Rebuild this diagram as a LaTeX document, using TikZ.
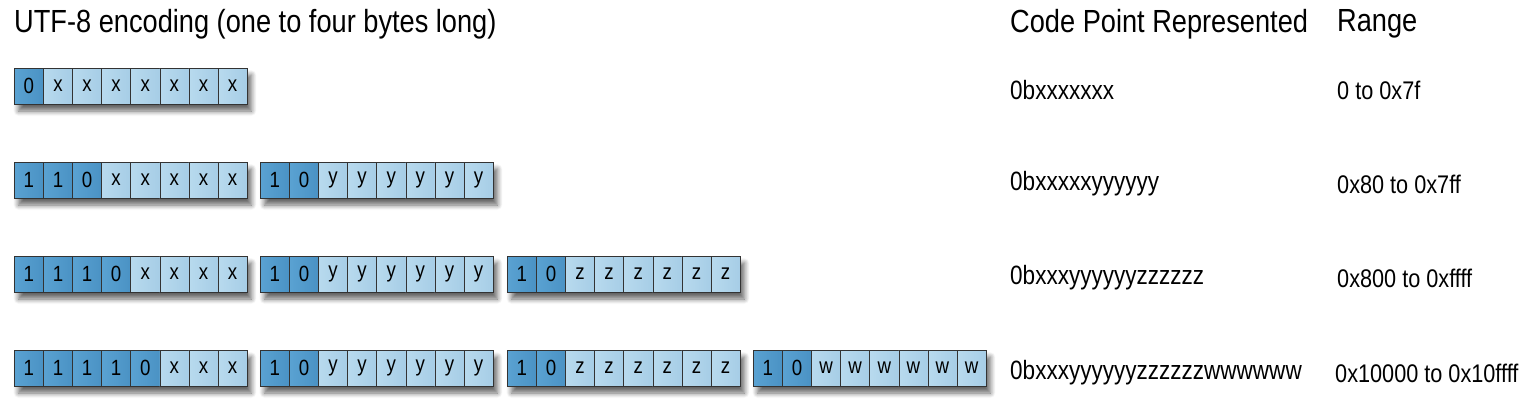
\documentclass[tikz,border=0pt]{standalone}
\usepackage{fontspec}
\setmainfont[FakeStretch=0.85]{Liberation Sans}
\usetikzlibrary{shadows.blur,calc}
\definecolor{darkc}{HTML}{5AA2D2}
\definecolor{darkc2}{HTML}{4A92C4}
\definecolor{lightc}{HTML}{B8DAEE}
\definecolor{lightc2}{HTML}{A6CDE6}
\tikzset{
  bytebox/.style={draw=black!80, line width=0.9pt, minimum width=233pt, minimum height=36pt, inner sep=0pt,
    blur shadow={shadow xshift=4pt, shadow yshift=-7pt, shadow blur steps=8, shadow opacity=60, shadow blur radius=5pt}},
  dcell/.style={draw=black!80, line width=0.6pt, left color=darkc, right color=darkc2, minimum width=29.1pt, minimum height=36pt, inner sep=0pt, font=\fontsize{22}{22}\selectfont},
  lcell/.style={draw=black!80, line width=0.6pt, left color=lightc, right color=lightc2, minimum width=29.1pt, minimum height=36pt, inner sep=0pt, font=\fontsize{22}{22}\selectfont},
  hdr/.style={anchor=west, font=\fontsize{32}{32}\selectfont, inner sep=0pt},
  lbl/.style={anchor=west, font=\fontsize{26.5}{26.5}\selectfont, inner sep=0pt},
  rlbl/.style={anchor=west, font=\fontsize{25.5}{25.5}\selectfont, inner sep=0pt}
}
\newcommand{\mybyte}[4]{%
  \node[bytebox, anchor=west] (#1) at (#2,#3) {};
  \foreach \b [count=\i from 0] in {#4} {
    \edef\tmp{\b}
    \ifnum\pdfstrcmp{\tmp}{1}=0 \def\sty{dcell}\else\ifnum\pdfstrcmp{\tmp}{0}=0 \def\sty{dcell}\else\def\sty{lcell}\fi\fi
    \node[\sty, anchor=west] (#1c\i) at ($(#1.west)+(\i*29.1,0)$) {\b};
  }%
}
\begin{document}
\begin{tikzpicture}[x=1pt,y=-1pt]
\useasboundingbox (0,0) rectangle (1527,418);
\node[hdr] (title) at (14,24) {UTF-8 encoding (one to four bytes long)};
\node[hdr] (cph) at (1010,24) {Code Point Represented};
\node[hdr] (rh) at (1337,24) {Range};

\mybyte{ra}{14}{86}{0,x,x,x,x,x,x,x}

\mybyte{rba}{14}{180}{1,1,0,x,x,x,x,x}
\mybyte{rbb}{260}{180}{1,0,y,y,y,y,y,y}

\mybyte{rca}{14}{274}{1,1,1,0,x,x,x,x}
\mybyte{rcb}{260}{274}{1,0,y,y,y,y,y,y}
\mybyte{rcc}{507}{274}{1,0,z,z,z,z,z,z}

\mybyte{rda}{14}{368}{1,1,1,1,0,x,x,x}
\mybyte{rdb}{260}{368}{1,0,y,y,y,y,y,y}
\mybyte{rdc}{507}{368}{1,0,z,z,z,z,z,z}
\mybyte{rdd}{753}{368}{1,0,w,w,w,w,w,w}

\node[lbl] (c1) at (1010,90) {0bxxxxxxx};
\node[lbl] (c2) at (1010,184) {0bxxxxxyyyyyy};
\node[lbl] (c3) at (1010,278) {0bxxxyyyyyyzzzzzz};
\node[lbl] (c4) at (1010,373) {0bxxxyyyyyyzzzzzzwwwwww};
\node[rlbl] (g1) at (1337,90) {0 to 0x7f};
\node[rlbl] (g2) at (1337,184) {0x80 to 0x7ff};
\node[rlbl] (g3) at (1337,278) {0x800 to 0xffff};
\node[rlbl] (g4) at (1335,373) {0x10000 to 0x10ffff};
\end{tikzpicture}
\end{document}
